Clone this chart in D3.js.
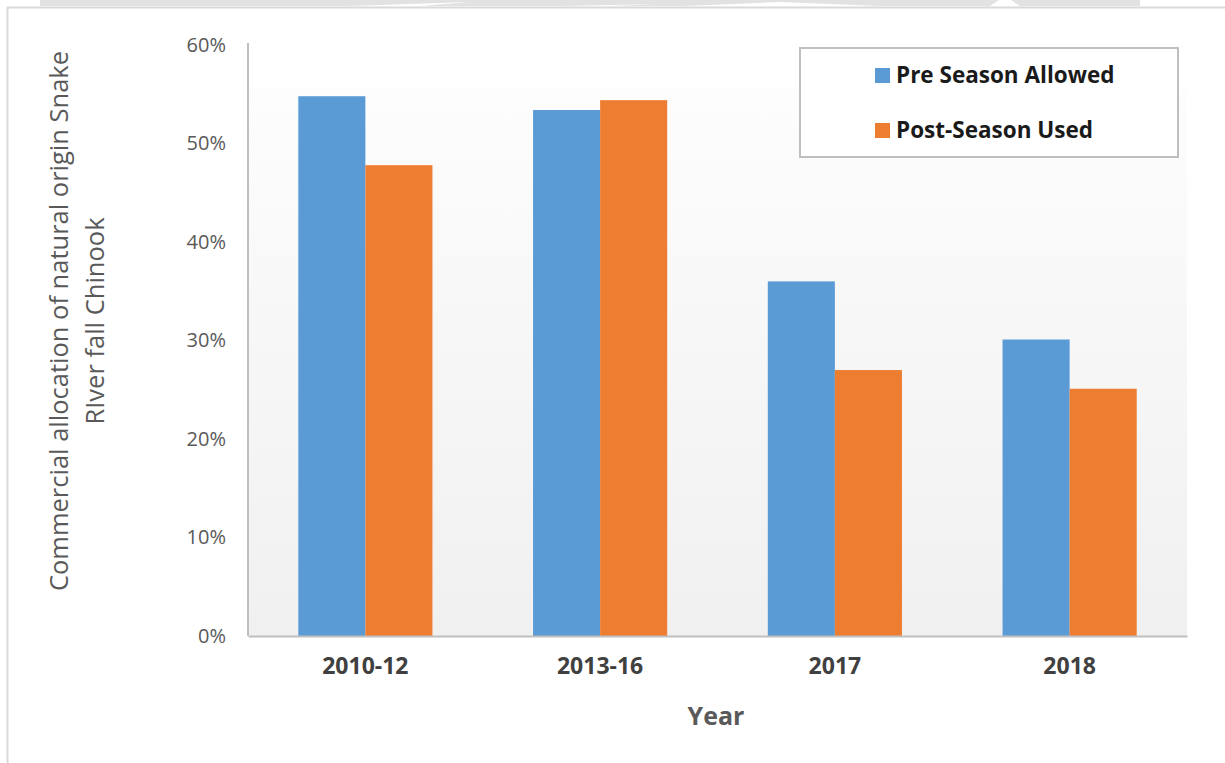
<!DOCTYPE html>
<html><head><meta charset="utf-8">
<script src="https://cdn.jsdelivr.net/npm/d3@7"></script>
<style>html,body{margin:0;padding:0;background:#fff;}svg{display:block;}</style>
</head><body>
<svg id="c" width="1225" height="763"></svg>
<script>
const categories = ["2010-12", "2013-16", "2017", "2018"];
const seriesNames = ["Pre Season Allowed", "Post-Season Used"];
const preSeason = [0.548, 0.534, 0.360, 0.301];
const postSeason = [0.478, 0.544, 0.270, 0.251];
const yTicks = [0, 0.1, 0.2, 0.3, 0.4, 0.5, 0.6];
const colors = ["#5b9bd5", "#ed7d31"];

const svg = d3.select("#c");
const font = "'Open Sans', sans-serif";
const M = {left: 248, right: 1187, top: 45, bottom: 636};

// watermark band at top
const wm = svg.append("g").attr("fill", "#e2e2e2");
wm.append("rect").attr("x", 40).attr("y", 0).attr("width", 1100).attr("height", 6);
svg.append("g").attr("fill", "#fff").selectAll("path")
  .data([[350,420,470,2],[427,560,531,6],[565,612,658,4],[685,880,780,2],[990,1020,1005,-4]])
  .join("path")
  .attr("d", d => `M${d[0]},6 L${d[1]},6 L${d[2]},${d[3]} Z`);

// frame
svg.append("line").attr("x1", 7).attr("x2", 1225).attr("y1", 7.5).attr("y2", 7.5).attr("stroke", "#d9d9d9").attr("stroke-width", 2);
svg.append("line").attr("x1", 7.5).attr("x2", 7.5).attr("y1", 7).attr("y2", 763).attr("stroke", "#d9d9d9").attr("stroke-width", 2);

const x0 = d3.scaleBand().domain(categories).range([M.left, M.right]).paddingInner(0).paddingOuter(0);
const x1 = d3.scaleBand().domain(seriesNames).range([0, x0.bandwidth()]).paddingInner(0).paddingOuter(0.75);
const y = d3.scaleLinear().domain([0, 0.6]).range([M.bottom, M.top]);

// plot background gradient
const defs = svg.append("defs");
const grad = defs.append("linearGradient").attr("id", "bg").attr("x1", 0).attr("x2", 0).attr("y1", 0).attr("y2", 1);
grad.append("stop").attr("offset", "0%").attr("stop-color", "#fdfdfd");
grad.append("stop").attr("offset", "100%").attr("stop-color", "#f0f0f0");
svg.append("rect").attr("x", M.left).attr("y", 87).attr("width", M.right - M.left).attr("height", M.bottom - 87).attr("fill", "url(#bg)");

// bars
const data = categories.map((c, i) => ({cat: c, vals: [preSeason[i], postSeason[i]]}));
const g = svg.append("g");
g.selectAll("g.grp").data(data).join("g").attr("class", "grp")
  .attr("transform", d => `translate(${x0(d.cat)},0)`)
  .selectAll("rect").data(d => d.vals.map((v, j) => ({v, s: seriesNames[j], j})))
  .join("rect")
  .attr("x", d => x1(d.s)).attr("width", x1.bandwidth())
  .attr("y", d => y(d.v)).attr("height", d => y(0) - y(d.v))
  .attr("fill", d => colors[d.j]);

// axes
const yAxis = d3.axisLeft(y).tickValues(yTicks).tickFormat(d3.format(".0%")).tickSize(0).tickPadding(22);
const ya = svg.append("g").attr("transform", `translate(${M.left},0)`).call(yAxis);
ya.select(".domain").attr("stroke", "#bfbfbf").attr("stroke-width", 2).attr("d", `M0,${M.top - 2}V${M.bottom}`);
ya.selectAll("text").attr("font-family", font).attr("font-size", 20).attr("fill", "#595959");

const xAxis = d3.axisBottom(x0).tickSize(0).tickPadding(22);
const xa = svg.append("g").attr("transform", `translate(0,${M.bottom})`).call(xAxis);
xa.select(".domain").attr("stroke", "#bfbfbf").attr("stroke-width", 2);
xa.selectAll("text").attr("font-family", font).attr("font-size", 23).attr("font-weight", "bold").attr("fill", "#404040");

// axis titles
svg.append("text").attr("x", 716).attr("y", 725).attr("text-anchor", "middle")
  .attr("font-family", font).attr("font-size", 25).attr("font-weight", "bold").attr("fill", "#595959").text("Year");
const yt = svg.append("text").attr("transform", "translate(0,321) rotate(-90)")
  .attr("text-anchor", "middle").attr("font-family", font).attr("font-size", 25.5).attr("fill", "#595959");
yt.append("tspan").attr("x", 0).attr("y", 68).text("Commercial allocation of natural origin Snake");
yt.append("tspan").attr("x", 0).attr("y", 104).text("RIver fall Chinook");

// legend
const lg = svg.append("g");
lg.append("rect").attr("x", 800).attr("y", 48).attr("width", 378).attr("height", 109)
  .attr("fill", "#fff").attr("stroke", "#bfbfbf").attr("stroke-width", 2);
const items = lg.selectAll("g.it").data(seriesNames).join("g").attr("class", "it")
  .attr("transform", (d, i) => `translate(875,${75 + i * 55})`);
items.append("rect").attr("x", 0).attr("y", -7).attr("width", 15).attr("height", 15).attr("fill", (d, i) => colors[i]);
items.append("text").attr("x", 21).attr("y", 0).attr("dy", "0.35em")
  .attr("font-family", font).attr("font-size", 22.5).attr("font-weight", "bold").attr("fill", "#1a1a1a").text(d => d);
</script>
</body></html>
